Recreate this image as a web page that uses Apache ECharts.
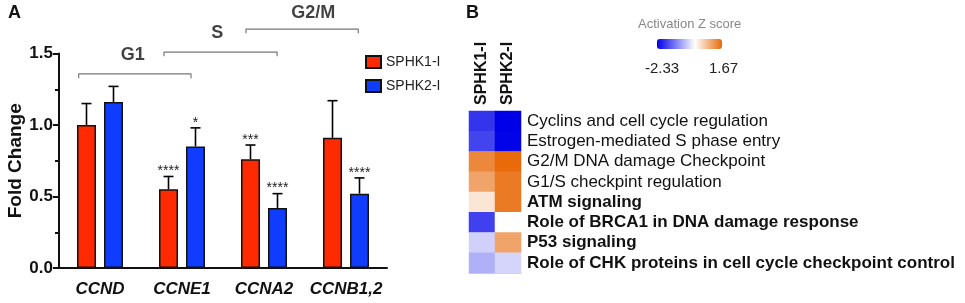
<!DOCTYPE html>
<html>
<head>
<meta charset="utf-8">
<script src="https://cdn.jsdelivr.net/npm/echarts@6/dist/echarts.min.js"></script>
<style>
  html, body { margin: 0; padding: 0; background: #fff; }
  #chart { width: 965px; height: 303px; }
</style>
</head>
<body>
<div id="chart"></div>
<script>
/* ── Panel A data ── */
const GENES = ['CCND', 'CCNE1', 'CCNA2', 'CCNB1,2'];
const SPHK1_MEAN = [1.00, 0.55, 0.76, 0.91];
const SPHK1_SEM  = [0.15, 0.09, 0.10, 0.26];
const SPHK2_MEAN = [1.16, 0.85, 0.42, 0.52];
const SPHK2_SEM  = [0.11, 0.13, 0.10, 0.11];
const SPHK1_SIG  = ['', '****', '***', ''];
const SPHK2_SIG  = ['', '*', '****', '****'];
const Y_TICKS    = [0, 0.5, 1.0, 1.5];

// cell-cycle brackets, in category units (0..4) and fold-change units
const PHASES      = ['G1', 'S', 'G2/M'];
const PHASE_FROM  = [0.24, 1.28, 2.28];
const PHASE_TO    = [1.61, 2.66, 3.65];
const PHASE_LEVEL = [1.357, 1.51, 1.671];
const PHASE_TEXT_X = [0.90, 1.93, 3.10];
const PHASE_TEXT_Y = [1.49, 1.64, 1.78];

/* ── Panel B data ── */
const GROUPS = ['SPHK1-I', 'SPHK2-I'];
const PATHWAYS = [
  'Cyclins and cell cycle regulation',
  'Estrogen-mediated S phase entry',
  'G2/M DNA damage Checkpoint',
  'G1/S checkpint regulation',
  'ATM signaling',
  'Role of BRCA1 in DNA damage response',
  'P53 signaling',
  'Role of CHK proteins in cell cycle checkpoint control'
];
const BOLD_PATHWAY = [false, false, false, false, true, true, true, true];
const Z_SPHK1 = [-1.86, -1.71, 1.34, 1.02, 0.28, -1.75, -0.43, -0.72];
const Z_SPHK2 = [-2.33, -2.30, 1.67, 1.49, 1.49, 0.00, 1.02, -0.39];
const Z_MIN = -2.33;
const Z_MAX = 1.67;

const RED  = '#FF2A00';
const BLUE = '#0F3CFF';
const Z_BLUE   = [0, 0, 232];
const Z_ORANGE = [232, 106, 10];
const FONT = 'Liberation Sans';

// gradient stops so that white sits exactly at z = 0
function zStops(n) {
  const out = [];
  for (let k = 0; k < n; k++) {
    const v = Z_MIN + (Z_MAX - Z_MIN) * k / (n - 1);
    const end = v < 0 ? Z_BLUE : Z_ORANGE;
    const s = v < 0 ? v / Z_MIN : v / Z_MAX;
    const c = end.map(ch => Math.round(255 + (ch - 255) * s));
    out.push('rgb(' + c.join(',') + ')');
  }
  return out;
}

const chart = echarts.init(document.getElementById('chart'), null, { renderer: 'canvas' });

function errorSeries(name, means, sems, sig, offset) {
  return {
    name: name + ' err',
    type: 'custom',
    xAxisIndex: 0, yAxisIndex: 0,
    z: 1,
    silent: true,
    data: means.map((m, i) => [i, m, sems[i]]),
    encode: { x: 0, y: 1 },
    renderItem: (params, api) => {
      const i = api.value(0);
      const base = api.coord([i, api.value(1)]);
      const top = api.coord([i, api.value(1) + api.value(2)]);
      const cx = base[0] + offset;
      const st = { stroke: '#000', lineWidth: 1.6 };
      const kids = [
        { type: 'line', shape: { x1: cx, y1: base[1], x2: cx, y2: top[1] }, style: st },
        { type: 'line', shape: { x1: cx - 5, y1: top[1], x2: cx + 5, y2: top[1] }, style: st }
      ];
      const s = sig[params.dataIndex];
      if (s) {
        kids.push({
          type: 'text',
          style: {
            text: s, x: cx, y: top[1] + 2,
            align: 'center', verticalAlign: 'bottom',
            fontFamily: FONT, fontSize: 14, fill: '#222'
          }
        });
      }
      return { type: 'group', children: kids };
    }
  };
}

const heatData = [];
PATHWAYS.forEach((p, r) => {
  heatData.push([0, r, Z_SPHK1[r]]);
  heatData.push([1, r, Z_SPHK2[r]]);
});

const bracketSeries = PHASES.map((p, k) => ({
  name: p,
  type: 'line',
  xAxisIndex: 1, yAxisIndex: 1,
  silent: true,
  symbol: 'none',
  lineStyle: { color: '#777', width: 1.2 },
  data: [
    [PHASE_FROM[k], PHASE_LEVEL[k] - 0.03],
    [PHASE_FROM[k], PHASE_LEVEL[k]],
    [PHASE_TO[k], PHASE_LEVEL[k]],
    [PHASE_TO[k], PHASE_LEVEL[k] - 0.03]
  ]
}));

const FRAME = { show: true, lineStyle: { color: '#cfcfcf', width: 1 } };

chart.setOption({
  animation: false,
  textStyle: { fontFamily: FONT },
  graphic: [
    { type: 'text', left: 8, top: 4, style: { text: 'A', fontFamily: FONT, fontSize: 18, fontWeight: 'bold', fill: '#111' } },
    { type: 'text', left: 466, top: 4, style: { text: 'B', fontFamily: FONT, fontSize: 18, fontWeight: 'bold', fill: '#111' } },
    { type: 'text', left: 638, top: 18, style: { text: 'Activation Z score', fontFamily: FONT, fontSize: 13, fill: '#888' } },
    { type: 'text', left: 645, top: 61, style: { text: Z_MIN.toFixed(2), fontFamily: FONT, fontSize: 15, fill: '#222' } },
    { type: 'text', left: 709, top: 61, style: { text: Z_MAX.toFixed(2), fontFamily: FONT, fontSize: 15, fill: '#222' } }
  ],
  legend: {
    data: ['SPHK1-I', 'SPHK2-I'],
    orient: 'vertical',
    left: 360, top: 50,
    itemWidth: 15, itemHeight: 12, itemGap: 10,
    icon: 'rect',
    textStyle: { fontFamily: FONT, fontSize: 14, color: '#222' }
  },
  visualMap: {
    type: 'continuous',
    seriesIndex: 7,
    min: Z_MIN, max: Z_MAX,
    orient: 'horizontal',
    left: 657, top: 39,
    itemWidth: 10, itemHeight: 65,
    padding: 0,
    calculable: false,
    hoverLink: false,
    text: ['', ''],
    inRange: { color: zStops(101) }
  },
  grid: [
    { left: 59, top: 53.5, width: 328, height: 214.5 },
    { left: 59, top: 10.6, width: 328, height: 257.4 },
    { left: 469, top: 111, width: 52, height: 162 }
  ],
  xAxis: [
    {
      type: 'category', gridIndex: 0, data: GENES,
      axisLine: { lineStyle: { color: '#111', width: 2 } },
      axisTick: { alignWithLabel: true, length: 6, lineStyle: { color: '#111', width: 2 } },
      axisLabel: { interval: 0, margin: 13, fontFamily: FONT, fontSize: 17, fontWeight: 'bold', fontStyle: 'italic', color: '#111' }
    },
    { type: 'value', gridIndex: 1, min: 0, max: 4, show: false },
    {
      type: 'category', gridIndex: 2, data: GROUPS, position: 'top',
      axisLine: FRAME,
      axisTick: { show: false },
      axisLabel: { interval: 0, rotate: -90, margin: 6, fontFamily: FONT, fontSize: 16, fontWeight: 'bold', color: '#111' }
    },
    {
      type: 'category', gridIndex: 2, data: GROUPS, position: 'bottom',
      axisLine: FRAME, axisTick: { show: false }, axisLabel: { show: false }
    }
  ],
  yAxis: [
    {
      type: 'value', gridIndex: 0, min: 0, max: 1.5, interval: 0.5,
      name: 'Fold Change', nameLocation: 'middle', nameGap: 33,
      nameTextStyle: { fontFamily: FONT, fontSize: 19, fontWeight: 'bold', color: '#111' },
      axisLine: { show: true, lineStyle: { color: '#111', width: 2 } },
      axisTick: { show: true, length: 6, lineStyle: { color: '#111', width: 2 } },
      minorTick: { show: true, splitNumber: 2, length: 4, lineStyle: { color: '#111', width: 2 } },
      splitLine: { show: false },
      axisLabel: {
        margin: 6, fontFamily: FONT, fontSize: 17, fontWeight: 'bold', color: '#111',
        formatter: v => (Y_TICKS.includes(v) ? v.toFixed(1) : '')
      }
    },
    { type: 'value', gridIndex: 1, min: 0, max: 1.8, show: false },
    {
      type: 'category', gridIndex: 2, data: PATHWAYS, inverse: true, position: 'right',
      axisLine: { show: false },
      axisTick: { show: false },
      axisLabel: {
        interval: 0, margin: 6, fontFamily: FONT, fontSize: 17, color: '#111',
        formatter: (v, i) => (BOLD_PATHWAY[i] ? '{b|' + v + '}' : v),
        rich: { b: { fontFamily: FONT, fontSize: 17, fontWeight: 'bold', color: '#111' } }
      }
    },
    {
      type: 'category', gridIndex: 2, data: PATHWAYS, inverse: true, position: 'left',
      axisLine: FRAME, axisTick: { show: false }, axisLabel: { show: false }
    }
  ],
  series: [
    {
      name: 'SPHK1-I', type: 'bar', xAxisIndex: 0, yAxisIndex: 0,
      data: SPHK1_MEAN, barWidth: 19, barGap: '42%', z: 2,
      itemStyle: { color: RED, borderColor: '#111', borderWidth: 1.5 }
    },
    {
      name: 'SPHK2-I', type: 'bar', xAxisIndex: 0, yAxisIndex: 0,
      data: SPHK2_MEAN, barWidth: 19, barGap: '42%', z: 2,
      itemStyle: { color: BLUE, borderColor: '#111', borderWidth: 1.5 }
    },
    errorSeries('SPHK1-I', SPHK1_MEAN, SPHK1_SEM, SPHK1_SIG, -13.5),
    errorSeries('SPHK2-I', SPHK2_MEAN, SPHK2_SEM, SPHK2_SIG, 13.5),
    ...bracketSeries,
    {
      name: 'heat', type: 'heatmap', xAxisIndex: 2, yAxisIndex: 2,
      data: heatData
    },
    {
      name: 'phase labels', type: 'scatter', xAxisIndex: 1, yAxisIndex: 1,
      symbolSize: 0, silent: true,
      data: PHASES.map((p, k) => ({ name: p, value: [PHASE_TEXT_X[k], PHASE_TEXT_Y[k]] })),
      label: {
        show: true, position: 'inside', formatter: '{b}',
        fontFamily: FONT, fontSize: 18, fontWeight: 'bold', color: '#111'
      }
    }
  ]
});
</script>
</body>
</html>
